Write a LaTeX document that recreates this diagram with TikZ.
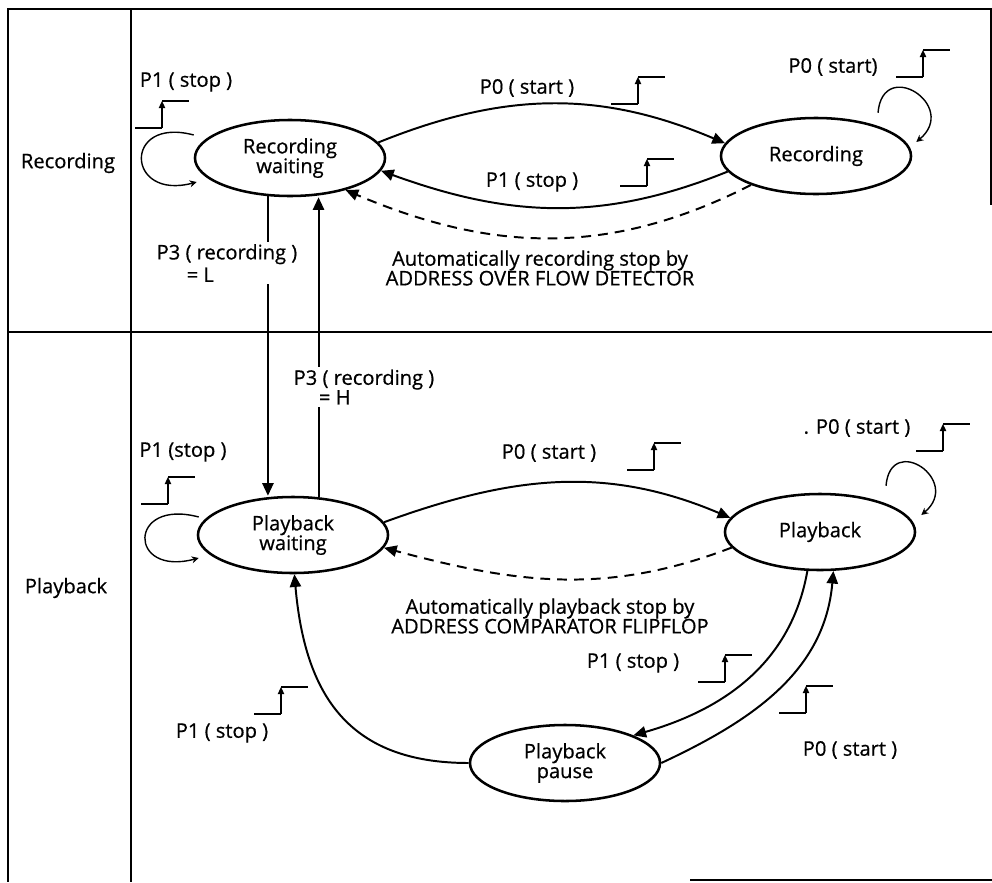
\documentclass[tikz,border=0pt]{standalone}
\usepackage{fontspec}
\setmainfont{Open Sans}[FakeBold=0.6]
\usetikzlibrary{arrows.meta,shapes.geometric}

\tikzset{
  state/.style={ellipse, draw, line width=1.8pt, minimum width=4.75cm,
    minimum height=1.9cm, inner sep=0pt, align=center},
  trans/.style={line width=1.4pt, -{Triangle[length=9pt,width=8pt]}},
  autostop/.style={trans, dash pattern=on 7pt off 5pt},
  selfloop/.style={line width=1pt, -{Stealth[length=5pt,width=5pt]}},
  frame/.style={line width=1.2pt},
  cond/.style={inner sep=1.5pt},
  rise/.pic={
    \draw[line width=0.8pt] (0,0) -- (27,0) (27,-27) -- (54,-27);
    \draw[line width=0.9pt,-{Triangle[length=5pt,width=4.5pt]}] (27,0) -- (27,-27);
  }
}

\begin{document}
\begin{tikzpicture}[x=0.025cm, y=-0.025cm, font=\fontsize{14.3}{14}\selectfont]
  \useasboundingbox (0,0) rectangle (992,882);

  %---------------------------------------
  % table frame
  \draw[frame] (992,9) -- (8,9) -- (8,882);
  \draw[frame] (131,9) -- (131,882);
  \draw[frame] (8,332) -- (992,332);
  \draw[frame] (991,9) -- (991,205);
  \draw[line width=0.8pt] (690,880) -- (992,880);

  \node (lrec)  at (68,163) {Recording};
  \node (lplay) at (66,588) {Playback};

  %---------------------------------------
  % states
  \node[state] (rw)  at (290,158) {Recording\\waiting};
  \node[state] (rec) at (816,156) {Recording};
  \node[state] (pw)  at (293,535) {Playback\\waiting};
  \node[state] (pb)  at (820,532) {Playback};
  \node[state] (pp)  at (565,763) {Playback\\pause};

  %---------------------------------------
  % recording row
  \draw[trans] (rw.10) to[out=22,in=157] (rec.172);
  \draw[trans] (rec.190) to[out=202,in=-20] (rw.-8);
  \draw[autostop] (rec.204) to[out=207,in=-23] (rw.-30);
  \draw[selfloop] ([shift={(0,-23)}]rw.west) to[out=165,in=195,looseness=4] ([shift={(3,24)}]rw.west);
  \draw[selfloop] ([shift={(62,-4)}]rec.north) to[out=85,in=40,looseness=3] ([shift={(4,-14)}]rec.east);

  \node (c1) at (186,82) {P1 ( stop )};
  \pic at (135,128) {rise};
  \node (c2) at (527,88) {P0 ( start )};
  \pic at (611,104) {rise};
  \node (c3) at (532,182) {P1 ( stop )};
  \pic at (620,186) {rise};
  \node (c4) at (833,67) {P0 ( start)};
  \pic at (896,77) {rise};
  \node[align=center] (ovf) at (540,268) {Automatically recording stop by\\ADDRESS OVER FLOW DETECTOR};

  %---------------------------------------
  % between rows
  \draw[trans] (rw.-120) -- (rw.-120 |- pw.north);
  \draw[trans] (pw.56) -- (pw.56 |- rw.south);
  \node[cond, fill=white, align=left] (p3l) at (227,263) {P3 ( recording )\\[2pt]\hspace*{0.75cm}= L};
  \node[cond, fill=white, align=left] (p3h) at (364,387) {P3 ( recording )\\\hspace*{0.63cm}= H};

  %---------------------------------------
  % playback row
  \draw[trans] (pw.8) to[out=20,in=157] (pb.171);
  \draw[autostop] (pb.190) to[out=201,in=-15] (pw.-8);
  \draw[trans] (pb.-108) to[out=-100,in=16] (pp.22);
  \draw[trans] (pp.east) to[out=25,in=-95] (pb.-71);
  \draw[trans] (pp.west) to[out=180,in=-85,looseness=1.2] (pw.-88);
  \draw[selfloop] ([shift={(2,-18)}]pw.west) to[out=165,in=195,looseness=4.6] ([shift={(2,23)}]pw.west);
  \draw[selfloop] ([shift={(66,-7)}]pb.north) to[out=85,in=40,looseness=3] ([shift={(5,-17)}]pb.east);

  \node (c5) at (183,452) {P1 (stop )};
  \pic at (141,504) {rise};
  \node (c6) at (549,453) {P0 ( start )};
  \pic at (627,470) {rise};
  \node (c7) at (857,428) {. P0 ( start )};
  \pic at (916,451) {rise};
  \node (c8) at (633,663) {P1 ( stop )};
  \pic at (698,682) {rise};
  \node (c9) at (850,750) {P0 ( start )};
  \pic at (779,713) {rise};
  \node (c10) at (222,733) {P1 ( stop )};
  \pic at (254,714) {rise};
  \node[align=center] (cmp) at (550,616) {Automatically playback stop by\\ADDRESS COMPARATOR FLIPFLOP};
\end{tikzpicture}
\end{document}
